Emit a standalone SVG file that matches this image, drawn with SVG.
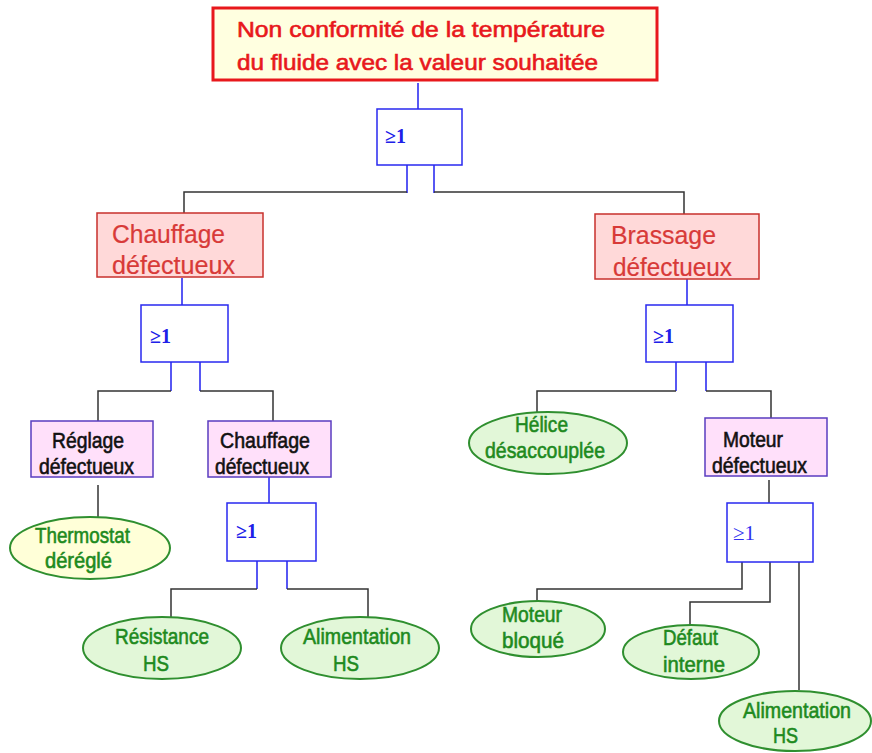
<svg xmlns="http://www.w3.org/2000/svg" width="872" height="753" viewBox="0 0 872 753">
<style>
.bg{fill:#ffffff}
.top{fill:#ffffe0;stroke:#e8181c;stroke-width:3}
.ev{fill:#ffd9d9;stroke:#c8302c;stroke-width:1.5}
.sub{fill:#ffe0fa;stroke:#5a3cc0;stroke-width:1.5}
.gate{fill:#ffffff;stroke:#2828f0;stroke-width:1.5}
.leafY{fill:#ffffd8;stroke:#2f8f2f;stroke-width:2}
.leafG{fill:#e2f7d8;stroke:#2f8f2f;stroke-width:2}
.tRed{font-family:"Liberation Sans",Arial,sans-serif;font-size:22px;fill:#e8181c;stroke:#e8181c;stroke-width:0.6}
.tEv{font-family:"Liberation Sans",Arial,sans-serif;font-size:25px;fill:#d83a38;stroke:#d83a38;stroke-width:0.2}
.tSub{font-family:"Liberation Sans",Arial,sans-serif;font-size:22px;fill:#111111;stroke:#111111;stroke-width:0.6}
.tLeaf{font-family:"Liberation Sans",Arial,sans-serif;font-size:22px;fill:#1e8a1e;stroke:#1e8a1e;stroke-width:0.6}
.tGate{font-family:"Liberation Serif","Times New Roman",serif;font-size:20px;font-weight:bold;fill:#2020e8}
.tGateR{font-family:"Liberation Serif","Times New Roman",serif;font-size:21px;fill:#3030f0}
.cb{fill:none;stroke:#333333;stroke-width:1.5}
.cu{fill:none;stroke:#2020f0;stroke-width:1.5}
</style>
<rect class="bg" x="0" y="0" width="872" height="753"/>
<g id="connectors">
<path class="cu" d="M418,83 V109"/>
<path class="cu" d="M407,165 V193 M434,165 V193"/>
<path class="cb" d="M407,192 H184 V213 M434,192 H684 V214"/>
<path class="cu" d="M182,278 V305"/>
<path class="cu" d="M171,362 V391 M200,362 V391"/>
<path class="cb" d="M171,391 H98 V421 M200,391 H273 V421"/>
<path class="cu" d="M687,279 V305"/>
<path class="cu" d="M676,362 V391 M706,362 V391"/>
<path class="cb" d="M676,391 H537 V412 M706,391 H771 V418"/>
<path class="cb" d="M98,485 V517"/>
<path class="cu" d="M269,477 V503"/>
<path class="cu" d="M257,561 V589 M287,561 V589"/>
<path class="cb" d="M257,589 H171 V617 M287,589 H368 V617"/>
<path class="cb" d="M769,480 V503"/>
<path class="cb" d="M742,562 V589 H537 V602"/>
<path class="cb" d="M770,560 V602 H690 V630"/>
<path class="cb" d="M799,560 V690"/>
</g>
<g id="n-top">
<rect class="top" x="213" y="8" width="444" height="72"/>
<text class="tRed" x="237" y="37" textLength="368" lengthAdjust="spacingAndGlyphs">Non conformité de la température</text>
<text class="tRed" x="237" y="70" textLength="361" lengthAdjust="spacingAndGlyphs">du fluide avec la valeur souhaitée</text>
</g>
<g id="g-or1">
<rect class="gate" x="377" y="109" width="85" height="56"/>
<text class="tGate" x="385" y="143">≥1</text>
</g>
<g id="n-chauffage">
<rect class="ev" x="97" y="213" width="166" height="64"/>
<text class="tEv" x="112" y="243" textLength="113" lengthAdjust="spacingAndGlyphs">Chauffage</text>
<text class="tEv" x="112" y="274" textLength="123" lengthAdjust="spacingAndGlyphs">défectueux</text>
</g>
<g id="n-brassage">
<rect class="ev" x="595" y="214" width="164" height="65"/>
<text class="tEv" x="611" y="244" textLength="105" lengthAdjust="spacingAndGlyphs">Brassage</text>
<text class="tEv" x="613" y="276" textLength="119" lengthAdjust="spacingAndGlyphs">défectueux</text>
</g>
<g id="g-or2">
<rect class="gate" x="141" y="305" width="87" height="57"/>
<text class="tGate" x="150" y="343">≥1</text>
</g>
<g id="g-or3">
<rect class="gate" x="646" y="305" width="87" height="57"/>
<text class="tGate" x="653" y="343">≥1</text>
</g>
<g id="n-reglage">
<rect class="sub" x="31" y="421" width="122" height="56"/>
<text class="tSub" x="52" y="448" textLength="72" lengthAdjust="spacingAndGlyphs">Réglage</text>
<text class="tSub" x="39" y="474" textLength="95" lengthAdjust="spacingAndGlyphs">défectueux</text>
</g>
<g id="n-chauffage2">
<rect class="sub" x="208" y="421" width="123" height="56"/>
<text class="tSub" x="220" y="448" textLength="90" lengthAdjust="spacingAndGlyphs">Chauffage</text>
<text class="tSub" x="215" y="474" textLength="94" lengthAdjust="spacingAndGlyphs">défectueux</text>
</g>
<g id="n-helice">
<ellipse class="leafG" cx="548" cy="443" rx="79" ry="31"/>
<text class="tLeaf" x="515" y="432" textLength="53" lengthAdjust="spacingAndGlyphs">Hélice</text>
<text class="tLeaf" x="485" y="458" textLength="120" lengthAdjust="spacingAndGlyphs">désaccouplée</text>
</g>
<g id="n-moteur">
<rect class="sub" x="705" y="418" width="122" height="58"/>
<text class="tSub" x="723" y="447" textLength="60" lengthAdjust="spacingAndGlyphs">Moteur</text>
<text class="tSub" x="712" y="473" textLength="95" lengthAdjust="spacingAndGlyphs">défectueux</text>
</g>
<g id="n-thermostat">
<ellipse class="leafY" cx="90" cy="548" rx="80" ry="31"/>
<text class="tLeaf" x="35" y="543" textLength="95" lengthAdjust="spacingAndGlyphs">Thermostat</text>
<text class="tLeaf" x="45" y="568" textLength="67" lengthAdjust="spacingAndGlyphs">déréglé</text>
</g>
<g id="g-or4">
<rect class="gate" x="227" y="503" width="89" height="58"/>
<text class="tGate" x="236" y="538">≥1</text>
</g>
<g id="g-or5">
<rect class="gate" x="727" y="503" width="86" height="59"/>
<text class="tGateR" x="733" y="540">≥1</text>
</g>
<g id="n-resistance">
<ellipse class="leafG" cx="162" cy="648" rx="79" ry="31"/>
<text class="tLeaf" x="115" y="644" textLength="94" lengthAdjust="spacingAndGlyphs">Résistance</text>
<text class="tLeaf" x="143" y="671" textLength="26" lengthAdjust="spacingAndGlyphs">HS</text>
</g>
<g id="n-alim1">
<ellipse class="leafG" cx="360" cy="648" rx="79" ry="31"/>
<text class="tLeaf" x="303" y="644" textLength="108" lengthAdjust="spacingAndGlyphs">Alimentation</text>
<text class="tLeaf" x="333" y="671" textLength="26" lengthAdjust="spacingAndGlyphs">HS</text>
</g>
<g id="n-bloque">
<ellipse class="leafG" cx="538" cy="629" rx="67" ry="28"/>
<text class="tLeaf" x="502" y="622" textLength="60" lengthAdjust="spacingAndGlyphs">Moteur</text>
<text class="tLeaf" x="502" y="648" textLength="62" lengthAdjust="spacingAndGlyphs">bloqué</text>
</g>
<g id="n-defaut">
<ellipse class="leafG" cx="691" cy="652" rx="68" ry="27"/>
<text class="tLeaf" x="663" y="645" textLength="55" lengthAdjust="spacingAndGlyphs">Défaut</text>
<text class="tLeaf" x="663" y="672" textLength="62" lengthAdjust="spacingAndGlyphs">interne</text>
</g>
<g id="n-alim2">
<ellipse class="leafG" cx="795" cy="721" rx="76" ry="30"/>
<text class="tLeaf" x="743" y="718" textLength="108" lengthAdjust="spacingAndGlyphs">Alimentation</text>
<text class="tLeaf" x="773" y="743" textLength="25" lengthAdjust="spacingAndGlyphs">HS</text>
</g>
</svg>
